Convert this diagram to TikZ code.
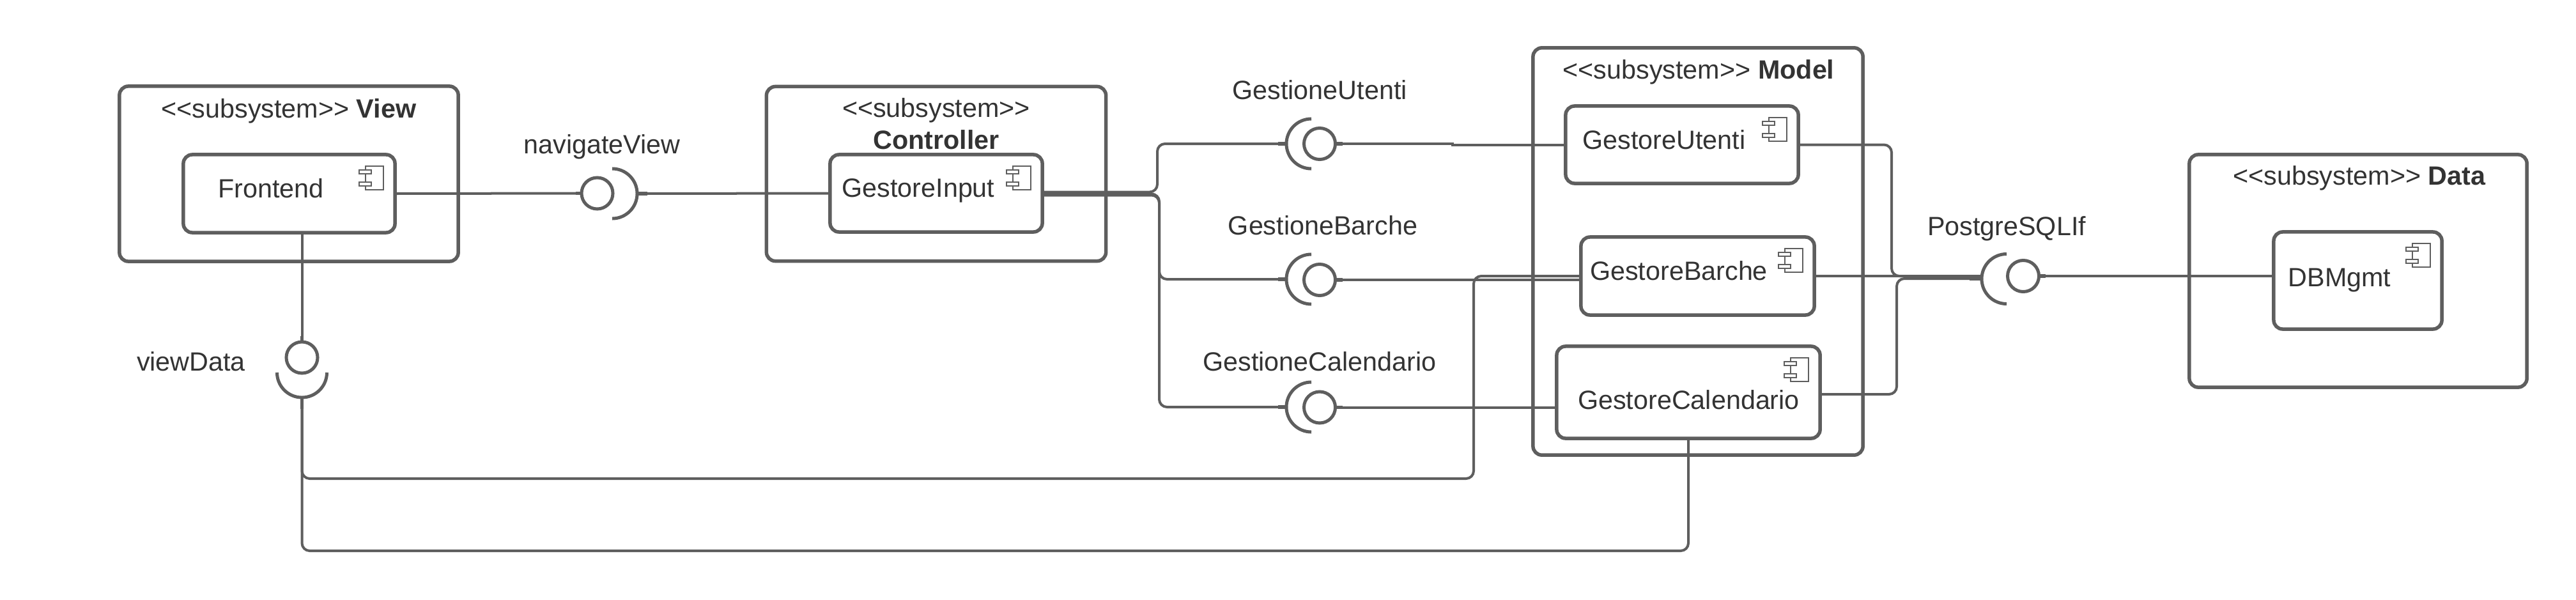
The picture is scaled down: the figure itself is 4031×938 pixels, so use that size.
\documentclass[tikz,border=0pt]{standalone}
\usepackage{fontspec}
\setmainfont{Liberation Sans}[Ligatures=TeXOff]
\definecolor{umlgray}{RGB}{94,94,94}
\definecolor{umltext}{RGB}{51,51,51}
\usetikzlibrary{calc}
\newcommand{\compicon}[1]{%
  \draw[iconline] ($(#1.north east)+(-46,-18)$) rectangle ++(28,-37);
  \filldraw[iconline, fill=white] ($(#1.north east)+(-56,-24)$) rectangle ++(19,-6);
  \filldraw[iconline, fill=white] ($(#1.north east)+(-56,-43)$) rectangle ++(19,-6);
}

\begin{document}
\begin{tikzpicture}[x=0.01cm, y=0.01cm,
  every node/.style={font=\fontsize{11.75}{14}\selectfont, text=umltext},
  lbl/.style={anchor=base, inner sep=0pt},
  subsys/.style={draw=umlgray, rounded corners=0.14cm, line width=0.055cm, outer sep=0pt, inner sep=0pt},
  comp/.style={draw=umlgray, rounded corners=0.14cm, line width=0.055cm, outer sep=0pt, inner sep=0pt},
  ball/.style={circle, draw=umlgray, line width=0.05cm, minimum size=0.49cm, inner sep=0pt, outer sep=0pt},
  sockpt/.style={circle, minimum size=0.78cm, inner sep=0pt, outer sep=0pt},
  sockarc/.style={draw=umlgray, line width=0.05cm},
  stub/.style={draw=umlgray, line width=0.055cm},
  conn/.style={draw=umlgray, line width=0.04cm, rounded corners=0.12cm},
  iconline/.style={draw=umlgray, line width=0.02cm}]
\useasboundingbox (0,0) rectangle (4031,938);
% View
\node[subsys, minimum width=5.30cm, minimum height=2.74cm] (view) at (452,666) {};
\node[comp, minimum width=3.31cm, minimum height=1.22cm] (frontend) at (452.5,635) {};
\node[lbl] (viewlbl) at (452,754) {<{}<subsystem>{}> \textbf{View}};
\node[lbl] (frontendlbl) at (424,629) {Frontend};
\compicon{frontend}
% Controller
\node[subsys, minimum width=5.31cm, minimum height=2.73cm] (controller) at (1465,666) {};
\node[comp, minimum width=3.32cm, minimum height=1.21cm] (input) at (1465,635.5) {};
\node[lbl] (controllerlbl) at (1465,755) {<{}<subsystem>{}>};
\node[lbl] (controllerlblb) at (1465,705) {\textbf{Controller}};
\node[lbl] (inputlbl) at (1437,630) {GestoreInput};
\compicon{input}
% Model
\node[subsys, minimum width=5.16cm, minimum height=6.37cm] (model) at (2657,544.5) {};
\node[comp, minimum width=3.64cm, minimum height=1.21cm] (utenti) at (2632,711.5) {};
\node[comp, minimum width=3.65cm, minimum height=1.22cm] (barche) at (2656.5,506) {};
\node[comp, minimum width=4.12cm, minimum height=1.44cm] (calendario) at (2642,324) {};
\node[lbl] (modellbl) at (2658,815) {<{}<subsystem>{}> \textbf{Model}};
\node[lbl] (utentilbl) at (2604,705) {GestoreUtenti};
\node[lbl] (barchelbl) at (2627,500) {GestoreBarche};
\node[lbl] (calendariolbl) at (2642.5,298) {GestoreCalendario};
\compicon{utenti}
\compicon{barche}
\compicon{calendario}
% Data
\node[subsys, minimum width=5.28cm, minimum height=3.64cm] (data) at (3690,514) {};
\node[comp, minimum width=2.63cm, minimum height=1.52cm] (dbmgmt) at (3689.5,499) {};
\node[lbl] (datalbl) at (3692,649) {<{}<subsystem>{}> \textbf{Data}};
\node[lbl] (dbmgmtlbl) at (3661,490) {DBMgmt};
\compicon{dbmgmt}
% Interfaces
\node[ball] (navball) at (934.5,635.5) {};
\node[sockpt] (navsock) at (958,635) {};
\node[lbl] (navlbl) at (942,698) {navigateView};
\node[ball] (viewball) at (472.5,378.5) {};
\node[sockpt] (viewsock) at (472.5,355) {};
\node[lbl] (viewdatalbl) at (299,358) {viewData};
\node[ball] (uteball) at (2065,713) {};
\node[sockpt] (utesock) at (2052,713) {};
\node[lbl] (utelbl) at (2065,783) {GestioneUtenti};
\node[ball] (barball) at (2065,500) {};
\node[sockpt] (barsock) at (2052,501) {};
\node[lbl] (barlbl) at (2070,571) {GestioneBarche};
\node[ball] (calball) at (2065,300.5) {};
\node[sockpt] (calsock) at (2052,301) {};
\node[lbl] (callbl) at (2065,358) {GestioneCalendario};
\node[ball] (pgball) at (3166,506) {};
\node[sockpt] (pgsock) at (3140,501.5) {};
\node[lbl] (pglbl) at (3140,570) {PostgreSQLIf};
% Sockets
\draw[sockarc] (navsock.north) arc[start angle=90, end angle=-90, radius=0.39cm];
\draw[sockarc] (viewsock.west) arc[start angle=180, end angle=360, radius=0.39cm];
\draw[sockarc] (utesock.north) arc[start angle=90, end angle=270, radius=0.39cm];
\draw[sockarc] (barsock.north) arc[start angle=90, end angle=270, radius=0.39cm];
\draw[sockarc] (calsock.north) arc[start angle=90, end angle=270, radius=0.39cm];
\draw[sockarc] (pgsock.north) arc[start angle=90, end angle=270, radius=0.39cm];
% Stubs
\draw[stub] (navball.west) -- ++(-9,0);
\draw[stub] (navsock.east) -- ++(16,0);
\draw[stub] (viewball.north) -- ++(0,9);
\draw[stub] (viewsock.south) -- ++(0,-18);
\draw[stub] (utesock.west) -- ++(-13,0);
\draw[stub] (uteball.east) -- ++(11,0);
\draw[stub] (barsock.west) -- ++(-13,0);
\draw[stub] (barball.east) -- ++(11,0);
\draw[stub] (calsock.west) -- ++(-13,0);
\draw[stub] (calball.east) -- ++(11,0);
\draw[stub, line width=0.09cm] ([yshift=0.02cm]pgsock.west) -- ++(-19,0);
\draw[stub] (pgball.east) -- ++(10,0);
% Bends
\coordinate (busa) at (1811,0);
\coordinate (busb) at (1814,0);
\coordinate (utejog) at (2273,0);
\coordinate (retbar) at (2306,189);
\coordinate (retcal) at (2642,76);
\coordinate (pgup) at (2960,506);
\coordinate (pgdn) at (2968,502);
% Connectors
\draw[conn] (frontend.east) -- (navball.west);
\draw[conn] (navsock.east) -- (input.west);
\draw[conn] (frontend.south -| viewball.north) -- (viewball.north);
\draw[conn] ([yshift=0.02cm]input.east) -| (busa |- utesock.west) -- (utesock.west);
\draw[conn] ([yshift=-0.01cm]input.east) -| (busb |- barsock.west) -- (barsock.west);
\draw[conn] ([yshift=-0.03cm]input.east) -| (busb |- calsock.west) -- (calsock.west);
\draw[conn, rounded corners=0pt] (uteball.east) -- (utejog |- uteball.east) -- (utejog |- utenti.west) -- (utenti.west);
\draw[conn] (barball.east) -- (barball.east -| barche.west);
\draw[conn] (calball.east) -- (calball.east -| calendario.west);
\draw[conn] (barche.west) -| (retbar) -| (viewsock.south);
\draw[conn] (calendario.south) -- (retcal) -| (viewsock.south);
\draw[conn] (utenti.east) -| (pgup) -- (pgup -| pgsock.west);
\draw[conn] (barche.east) -- (barche.east -| pgsock.west);
\draw[conn] ([yshift=-0.03cm]calendario.east) -| (pgdn) -- (pgdn -| pgsock.west);
\draw[conn] (pgball.east) -- (pgball.east -| dbmgmt.west);
\end{tikzpicture}
\end{document}
